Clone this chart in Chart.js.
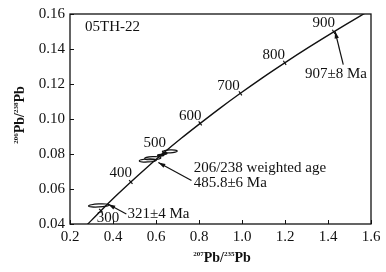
<!DOCTYPE html>
<html>
<head>
<meta charset="utf-8">
<script src="https://cdn.jsdelivr.net/npm/chart.js@4.4.1/dist/chart.umd.min.js"></script>
<style>
  html, body { margin: 0; padding: 0; background: #fff; }
  #wrap { width: 386px; height: 272px; position: relative; }
</style>
</head>
<body>
<div id="wrap"><canvas id="concordia"></canvas></div>
<script>
// concordia curve (207Pb/235U, 206Pb/238U) at ages in Ma
const curveAges = [250, 300, 350, 400, 450, 500, 550, 600, 650, 700, 750, 800, 850, 900, 950, 960];
const curveX = [0.2792, 0.3438, 0.4116, 0.4828, 0.5577, 0.6362, 0.7189, 0.8056, 0.8968, 0.9925, 1.0931, 1.1988, 1.3097, 1.4264, 1.5488, 1.5741];
const curveY = [0.0395, 0.0476, 0.0558, 0.0640, 0.0723, 0.0807, 0.0891, 0.0975, 0.1061, 0.1147, 0.1234, 0.1321, 0.1409, 0.1498, 0.1588, 0.1606];

// error ellipses: centre, half widths, filled or not
const ellX = [0.334, 0.562, 0.585, 0.665, 0.622, 0.640];
const ellY = [0.0506, 0.0763, 0.0776, 0.0815, 0.0793, 0.0803];
const ellSx = [0.048, 0.040, 0.038, 0.034, 0.018, 0.014];
const ellSy = [0.0008, 0.0008, 0.0008, 0.0008, 0.0007, 0.0007];
const ellFill = [false, false, false, false, true, true];

// axis ticks
const xTicks = [0.2, 0.4, 0.6, 0.8, 1.0, 1.2, 1.4, 1.6];
const yTicks = [0.04, 0.06, 0.08, 0.10, 0.12, 0.14, 0.16];

// annotation texts
const sampleName = "05TH-22";
const noteTexts = ["907\u00b18 Ma", "206/238 weighted age", "485.8\u00b16 Ma", "321\u00b14 Ma"];
const noteX = [1.293, 0.775, 0.775, 0.467];
const noteY = [0.1255, 0.0719, 0.0634, 0.0459];
// arrows: from (x0,y0) to tip (x1,y1)
const arrowX0 = [1.471, 0.765, 0.462];
const arrowY0 = [0.1311, 0.0649, 0.0457];
const arrowX1 = [1.433, 0.611, 0.378];
const arrowY1 = [0.1500, 0.0751, 0.0513];

const SERIF = "'Liberation Serif', 'DejaVu Serif', serif";
const INK = "#111";

// label offsets for the age ticks (px)
const ageLabelOffset = {
  300: [7, 7], 400: [-10, -9], 500: [-9, -10], 600: [-10, -7],
  700: [-12, -7], 800: [-11, -8], 900: [-10, -9]
};

function drawSup(ctx, parts, x, y) {
  let cx = x;
  parts.forEach(([t, sup]) => {
    ctx.font = sup ? "bold 7px " + SERIF : "bold 14px " + SERIF;
    ctx.fillText(t, cx, sup ? y - 6 : y);
    cx += ctx.measureText(t).width;
  });
  return cx - x;
}

function measureSup(ctx, parts) {
  let w = 0;
  parts.forEach(([t, sup]) => {
    ctx.font = sup ? "bold 7px " + SERIF : "bold 14px " + SERIF;
    w += ctx.measureText(t).width;
  });
  return w;
}

function arrow(ctx, x0, y0, x1, y1) {
  ctx.beginPath();
  ctx.moveTo(x0, y0);
  ctx.lineTo(x1, y1);
  ctx.stroke();
  const a = Math.atan2(y1 - y0, x1 - x0);
  const L = 7, W = 2.2;
  ctx.beginPath();
  ctx.moveTo(x1, y1);
  ctx.lineTo(x1 - L * Math.cos(a) + W * Math.sin(a), y1 - L * Math.sin(a) - W * Math.cos(a));
  ctx.lineTo(x1 - L * Math.cos(a) - W * Math.sin(a), y1 - L * Math.sin(a) + W * Math.cos(a));
  ctx.closePath();
  ctx.fill();
}

const decorPlugin = {
  id: "decor",
  afterDatasetsDraw(chart) {
    const ctx = chart.ctx;
    const xs = chart.scales.x, ys = chart.scales.y;
    const area = chart.chartArea;
    ctx.save();
    ctx.strokeStyle = INK;
    ctx.fillStyle = INK;

    // frame
    ctx.lineWidth = 1.3;
    ctx.strokeRect(area.left, area.top, area.right - area.left, area.bottom - area.top);

    // inward ticks
    ctx.lineWidth = 1;
    xTicks.forEach(v => {
      const px = Math.round(xs.getPixelForValue(v)) + 0.5;
      ctx.beginPath(); ctx.moveTo(px, area.bottom); ctx.lineTo(px, area.bottom - 4); ctx.stroke();
    });
    yTicks.forEach(v => {
      const py = Math.round(ys.getPixelForValue(v)) + 0.5;
      ctx.beginPath(); ctx.moveTo(area.left, py); ctx.lineTo(area.left + 4, py); ctx.stroke();
    });

    // error ellipses
    ctx.save();
    ctx.beginPath();
    ctx.rect(area.left, area.top, area.right - area.left, area.bottom - area.top);
    ctx.clip();
    ellX.forEach((cx, i) => {
      const px = xs.getPixelForValue(cx), py = ys.getPixelForValue(ellY[i]);
      const rx = Math.abs(xs.getPixelForValue(cx + ellSx[i]) - px);
      const ry = Math.abs(ys.getPixelForValue(ellY[i] + ellSy[i]) - py);
      ctx.beginPath();
      ctx.ellipse(px, py, rx, Math.max(ry, 1.5), -0.05, 0, Math.PI * 2);
      ctx.lineWidth = 1.2;
      if (ellFill[i]) ctx.fill(); else ctx.stroke();
    });

    // age ticks on the curve
    curveAges.forEach((age, i) => {
      if (age % 100 !== 0 || i === 0 || i === curveAges.length - 1) return;
      const px = xs.getPixelForValue(curveX[i]), py = ys.getPixelForValue(curveY[i]);
      const dx = xs.getPixelForValue(curveX[i + 1]) - xs.getPixelForValue(curveX[i - 1]);
      const dy = ys.getPixelForValue(curveY[i + 1]) - ys.getPixelForValue(curveY[i - 1]);
      const len = Math.hypot(dx, dy);
      const nx = -dy / len, ny = dx / len;
      ctx.lineWidth = 1.2;
      ctx.beginPath();
      ctx.moveTo(px - nx * 2.5, py - ny * 2.5);
      ctx.lineTo(px + nx * 2.5, py + ny * 2.5);
      ctx.stroke();
      const off = ageLabelOffset[age] || [-10, -8];
      ctx.font = "15px " + SERIF;
      ctx.textAlign = "center";
      ctx.textBaseline = "middle";
      ctx.fillText(String(age), px + off[0], py + off[1]);
    });
    ctx.restore();

    // sample name
    ctx.font = "15px " + SERIF;
    ctx.textAlign = "left";
    ctx.textBaseline = "middle";
    ctx.fillText(sampleName, area.left + 15, area.top + 13);

    // notes
    noteTexts.forEach((t, i) => {
      ctx.font = "15px " + SERIF;
      ctx.textAlign = "left";
      ctx.fillText(t, xs.getPixelForValue(noteX[i]), ys.getPixelForValue(noteY[i]));
    });

    // arrows
    ctx.lineWidth = 1.2;
    arrowX0.forEach((x0, i) => {
      arrow(ctx,
        xs.getPixelForValue(x0), ys.getPixelForValue(arrowY0[i]),
        xs.getPixelForValue(arrowX1[i]), ys.getPixelForValue(arrowY1[i]));
    });

    // axis titles with superscript mass numbers
    ctx.textAlign = "left";
    ctx.textBaseline = "alphabetic";
    const xTitle = [["207", true], ["Pb/", false], ["235", true], ["Pb", false]];
    const xw = measureSup(ctx, xTitle);
    drawSup(ctx, xTitle, 222 - xw / 2, 262);

    const yTitle = [["206", true], ["Pb/", false], ["238", true], ["Pb", false]];
    const yw = measureSup(ctx, yTitle);
    ctx.translate(24, 115);
    ctx.rotate(-Math.PI / 2);
    drawSup(ctx, yTitle, -yw / 2, 0);

    ctx.restore();
  }
};

const ctx = document.getElementById("concordia").getContext("2d");
new Chart(ctx, {
  type: "scatter",
  data: {
    datasets: [{
      label: "Concordia",
      data: curveX.map((x, i) => ({ x, y: curveY[i] })),
      showLine: true,
      borderColor: INK,
      borderWidth: 1.4,
      pointRadius: 0,
      cubicInterpolationMode: "monotone",
      fill: false
    }]
  },
  options: {
    responsive: true,
    maintainAspectRatio: false,
    animation: false,
    layout: { padding: { top: 12, right: 15, left: 0, bottom: 0 } },
    plugins: { legend: { display: false }, tooltip: { enabled: false } },
    scales: {
      x: {
        type: "linear",
        min: 0.2, max: 1.6,
        afterBuildTicks: s => { s.ticks = xTicks.map(v => ({ value: v })); },
        afterFit: s => { s.height = 48; },
        grid: { display: false, drawTicks: false },
        border: { display: false },
        ticks: {
          padding: 4,
          color: INK,
          font: { family: SERIF, size: 15 },
          callback: v => Number(v).toFixed(1)
        }
      },
      y: {
        type: "linear",
        min: 0.04, max: 0.16,
        afterBuildTicks: s => { s.ticks = yTicks.map(v => ({ value: v })); },
        afterFit: s => { s.width = 70; },
        grid: { display: false, drawTicks: false },
        border: { display: false },
        ticks: {
          padding: 5,
          color: INK,
          font: { family: SERIF, size: 15 },
          callback: v => Number(v).toFixed(2)
        }
      }
    }
  },
  plugins: [decorPlugin]
});
</script>
</body>
</html>
